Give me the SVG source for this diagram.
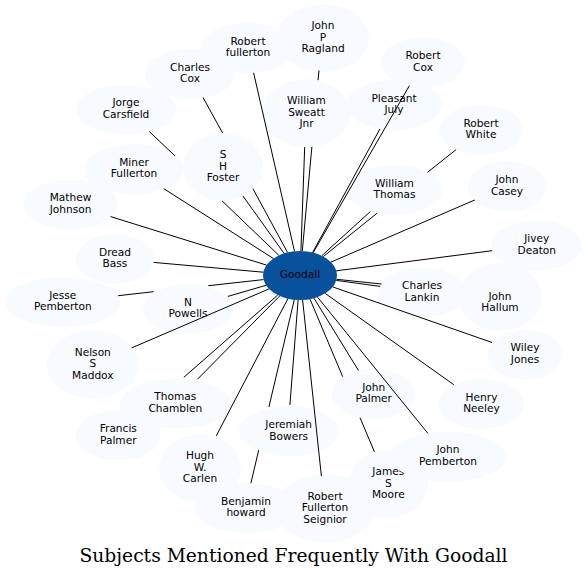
<svg xmlns="http://www.w3.org/2000/svg" width="586" height="577" viewBox="0 0 586 577">
<style>
.n ellipse{fill:#f7fbff;stroke:none}
#goodall ellipse{fill:#08519c}
text{font-family:"DejaVu Sans",sans-serif;font-size:10.6px;text-anchor:middle;fill:#000}
.title{font-family:"DejaVu Serif",serif;font-size:18.7px}
#edges path{stroke:#000;stroke-width:1;fill:none}
</style>
<rect width="586" height="577" fill="#fff"/>
<g id="goodall" class="n"><ellipse cx="300" cy="275.5" rx="37" ry="24.5"/><text x="300" y="278">Goodall</text></g>
<g id="ragland" class="n"><ellipse cx="323" cy="38" rx="46" ry="34"/><text x="323" y="29">John</text><text x="323" y="40.5">P</text><text x="323" y="52">Ragland</text></g>
<g id="robert_fullerton" class="n"><ellipse cx="248" cy="48" rx="47" ry="25"/><text x="248" y="44.75">Robert</text><text x="248" y="56.25">fullerton</text></g>
<g id="charles_cox" class="n"><ellipse cx="190" cy="74" rx="45" ry="25"/><text x="190" y="70.75">Charles</text><text x="190" y="82.25">Cox</text></g>
<g id="robert_cox" class="n"><ellipse cx="423" cy="62.5" rx="42" ry="25"/><text x="423" y="59.25">Robert</text><text x="423" y="70.75">Cox</text></g>
<g id="jorge" class="n"><ellipse cx="126" cy="109.5" rx="50" ry="25"/><text x="126" y="106.25">Jorge</text><text x="126" y="117.75">Carsfield</text></g>
<g id="sweatt" class="n"><ellipse cx="306.5" cy="113.3" rx="44" ry="34"/><text x="306.5" y="104.3">William</text><text x="306.5" y="115.8">Sweatt</text><text x="306.5" y="127.3">Jnr</text></g>
<g id="july" class="n"><ellipse cx="394" cy="105" rx="48" ry="25"/><text x="394" y="101.75">Pleasant</text><text x="394" y="113.25">July</text></g>
<g id="robert_white" class="n"><ellipse cx="481" cy="130" rx="42" ry="25"/><text x="481" y="126.75">Robert</text><text x="481" y="138.25">White</text></g>
<g id="miner" class="n"><ellipse cx="134" cy="169" rx="50" ry="25"/><text x="134" y="165.75">Miner</text><text x="134" y="177.25">Fullerton</text></g>
<g id="foster" class="n"><ellipse cx="223" cy="167" rx="40" ry="34"/><text x="223" y="158">S</text><text x="223" y="169.5">H</text><text x="223" y="181">Foster</text></g>
<g id="william_thomas" class="n"><ellipse cx="394.5" cy="190" rx="47.5" ry="25"/><text x="394.5" y="186.75">William</text><text x="394.5" y="198.25">Thomas</text></g>
<g id="casey" class="n"><ellipse cx="507" cy="186.3" rx="39.5" ry="25"/><text x="507" y="183.05">John</text><text x="507" y="194.55">Casey</text></g>
<g id="mathew" class="n"><ellipse cx="70.5" cy="204.5" rx="47" ry="25"/><text x="70.5" y="201.25">Mathew</text><text x="70.5" y="212.75">Johnson</text></g>
<g id="jivey" class="n"><ellipse cx="536.8" cy="245.5" rx="45" ry="25"/><text x="536.8" y="242.25">Jivey</text><text x="536.8" y="253.75">Deaton</text></g>
<g id="dread" class="n"><ellipse cx="115" cy="259" rx="39" ry="25"/><text x="115" y="255.75">Dread</text><text x="115" y="267.25">Bass</text></g>
<g id="jesse" class="n"><ellipse cx="62.8" cy="302" rx="58" ry="25"/><text x="62.8" y="298.75">Jesse</text><text x="62.8" y="310.25">Pemberton</text></g>
<g id="powells" class="n"><ellipse cx="188" cy="309" rx="45" ry="25"/><text x="188" y="305.75">N</text><text x="188" y="317.25">Powells</text></g>
<g id="hallum" class="n"><ellipse cx="500" cy="297" rx="42" ry="34"/><text x="500" y="299.75">John</text><text x="500" y="311.25">Hallum</text></g>
<g id="lankin" class="n"><ellipse cx="422" cy="292.5" rx="44" ry="25"/><text x="422" y="289.25">Charles</text><text x="422" y="300.75">Lankin</text></g>
<g id="wiley" class="n"><ellipse cx="525" cy="354.7" rx="37.5" ry="25"/><text x="525" y="351.45">Wiley</text><text x="525" y="362.95">Jones</text></g>
<g id="nelson" class="n"><ellipse cx="92.8" cy="364.5" rx="46" ry="34"/><text x="92.8" y="355.5">Nelson</text><text x="92.8" y="367">S</text><text x="92.8" y="378.5">Maddox</text></g>
<g id="francis" class="n"><ellipse cx="118.3" cy="435.3" rx="42.5" ry="25"/><text x="118.3" y="432.05">Francis</text><text x="118.3" y="443.55">Palmer</text></g>
<g id="chamblen" class="n"><ellipse cx="175.3" cy="403.7" rx="55.5" ry="25"/><text x="175.3" y="400.45">Thomas</text><text x="175.3" y="411.95">Chamblen</text></g>
<g id="henry" class="n"><ellipse cx="481.5" cy="404" rx="43" ry="25"/><text x="481.5" y="400.75">Henry</text><text x="481.5" y="412.25">Neeley</text></g>
<g id="hugh" class="n"><ellipse cx="200" cy="468.3" rx="41" ry="34"/><text x="200" y="459.3">Hugh</text><text x="200" y="470.8">W.</text><text x="200" y="482.3">Carlen</text></g>
<g id="benjamin" class="n"><ellipse cx="246" cy="508" rx="52" ry="25"/><text x="246" y="504.75">Benjamin</text><text x="246" y="516.25">howard</text></g>
<g id="bowers" class="n"><ellipse cx="288.7" cy="431.3" rx="50" ry="25"/><text x="288.7" y="428.05">Jeremiah</text><text x="288.7" y="439.55">Bowers</text></g>
<g id="seignior" class="n"><ellipse cx="325" cy="508.5" rx="50" ry="34"/><text x="325" y="499.5">Robert</text><text x="325" y="511">Fullerton</text><text x="325" y="522.5">Seignior</text></g>
<g id="moore" class="n"><ellipse cx="388.3" cy="484" rx="40" ry="34"/><text x="388.3" y="475">James</text><text x="388.3" y="486.5">S</text><text x="388.3" y="498">Moore</text></g>
<g id="john_palmer" class="n"><ellipse cx="373.7" cy="394" rx="42" ry="25"/><text x="373.7" y="390.75">John</text><text x="373.7" y="402.25">Palmer</text></g>
<g id="john_pemberton" class="n"><ellipse cx="448" cy="456.7" rx="58" ry="25"/><text x="448" y="453.45">John</text><text x="448" y="464.95">Pemberton</text></g>
<g id="edges">
<path d="M302.3,251 L311.9,146.7 M318,80.2 L319,70.5"/>
<path d="M294.5,251.3 L253.6,72.8"/>
<path d="M287.5,252.4 L252.9,188.7 M222.6,133 L203,97.5"/>
<path d="M313.2,252.6 L409.4,85.7"/>
<path d="M278.9,255.4 L222.2,201 M175,155.9 L149.2,131.5"/>
<path d="M312.6,252.5 L379.9,129"/>
<path d="M300.9,251 L304.7,147"/>
<path d="M323.4,256.5 L376.9,213.3 M427.4,172.4 L456.1,149.6"/>
<path d="M273.4,258.5 L163.8,188.7"/>
<path d="M284.1,253.4 L242.9,196"/>
<path d="M321.8,255.7 L370.3,211.6"/>
<path d="M331,262.1 L474.7,200"/>
<path d="M266.5,265.1 L110.6,216.6"/>
<path d="M336.3,270.8 L492.2,250.7"/>
<path d="M263.3,272.2 L153.6,262.4"/>
<path d="M263.5,279.6 L208.3,285.7 M153.6,291.7 L118.2,295.7"/>
<path d="M266.1,285.3 L227.9,296.4"/>
<path d="M336.3,280.4 L380.2,286.4"/>
<path d="M336.6,279.3 L381.5,284"/>
<path d="M332.7,286.9 L492.1,342.5"/>
<path d="M269,288.9 L131.7,347.9"/>
<path d="M279.7,296 L197.5,379.2"/>
<path d="M277.7,295.1 L183.8,377.3"/>
<path d="M287.9,298.7 L216.3,435.8"/>
<path d="M294.3,299.7 L268.9,407 M258.7,450.1 L250.9,483.2"/>
<path d="M298.1,300 L289.9,405"/>
<path d="M302.6,299.9 L321.4,476.1"/>
<path d="M314,298.2 L358.5,370.5"/>
<path d="M310,299.1 L342.7,376.7 M360,417.7 L374.5,452"/>
<path d="M325.2,293.4 L453.8,384.7"/>
<path d="M317.5,297.1 L427.9,433.4"/>
</g>
<text class="title" x="293.5" y="562">Subjects Mentioned Frequently With Goodall</text>
</svg>
